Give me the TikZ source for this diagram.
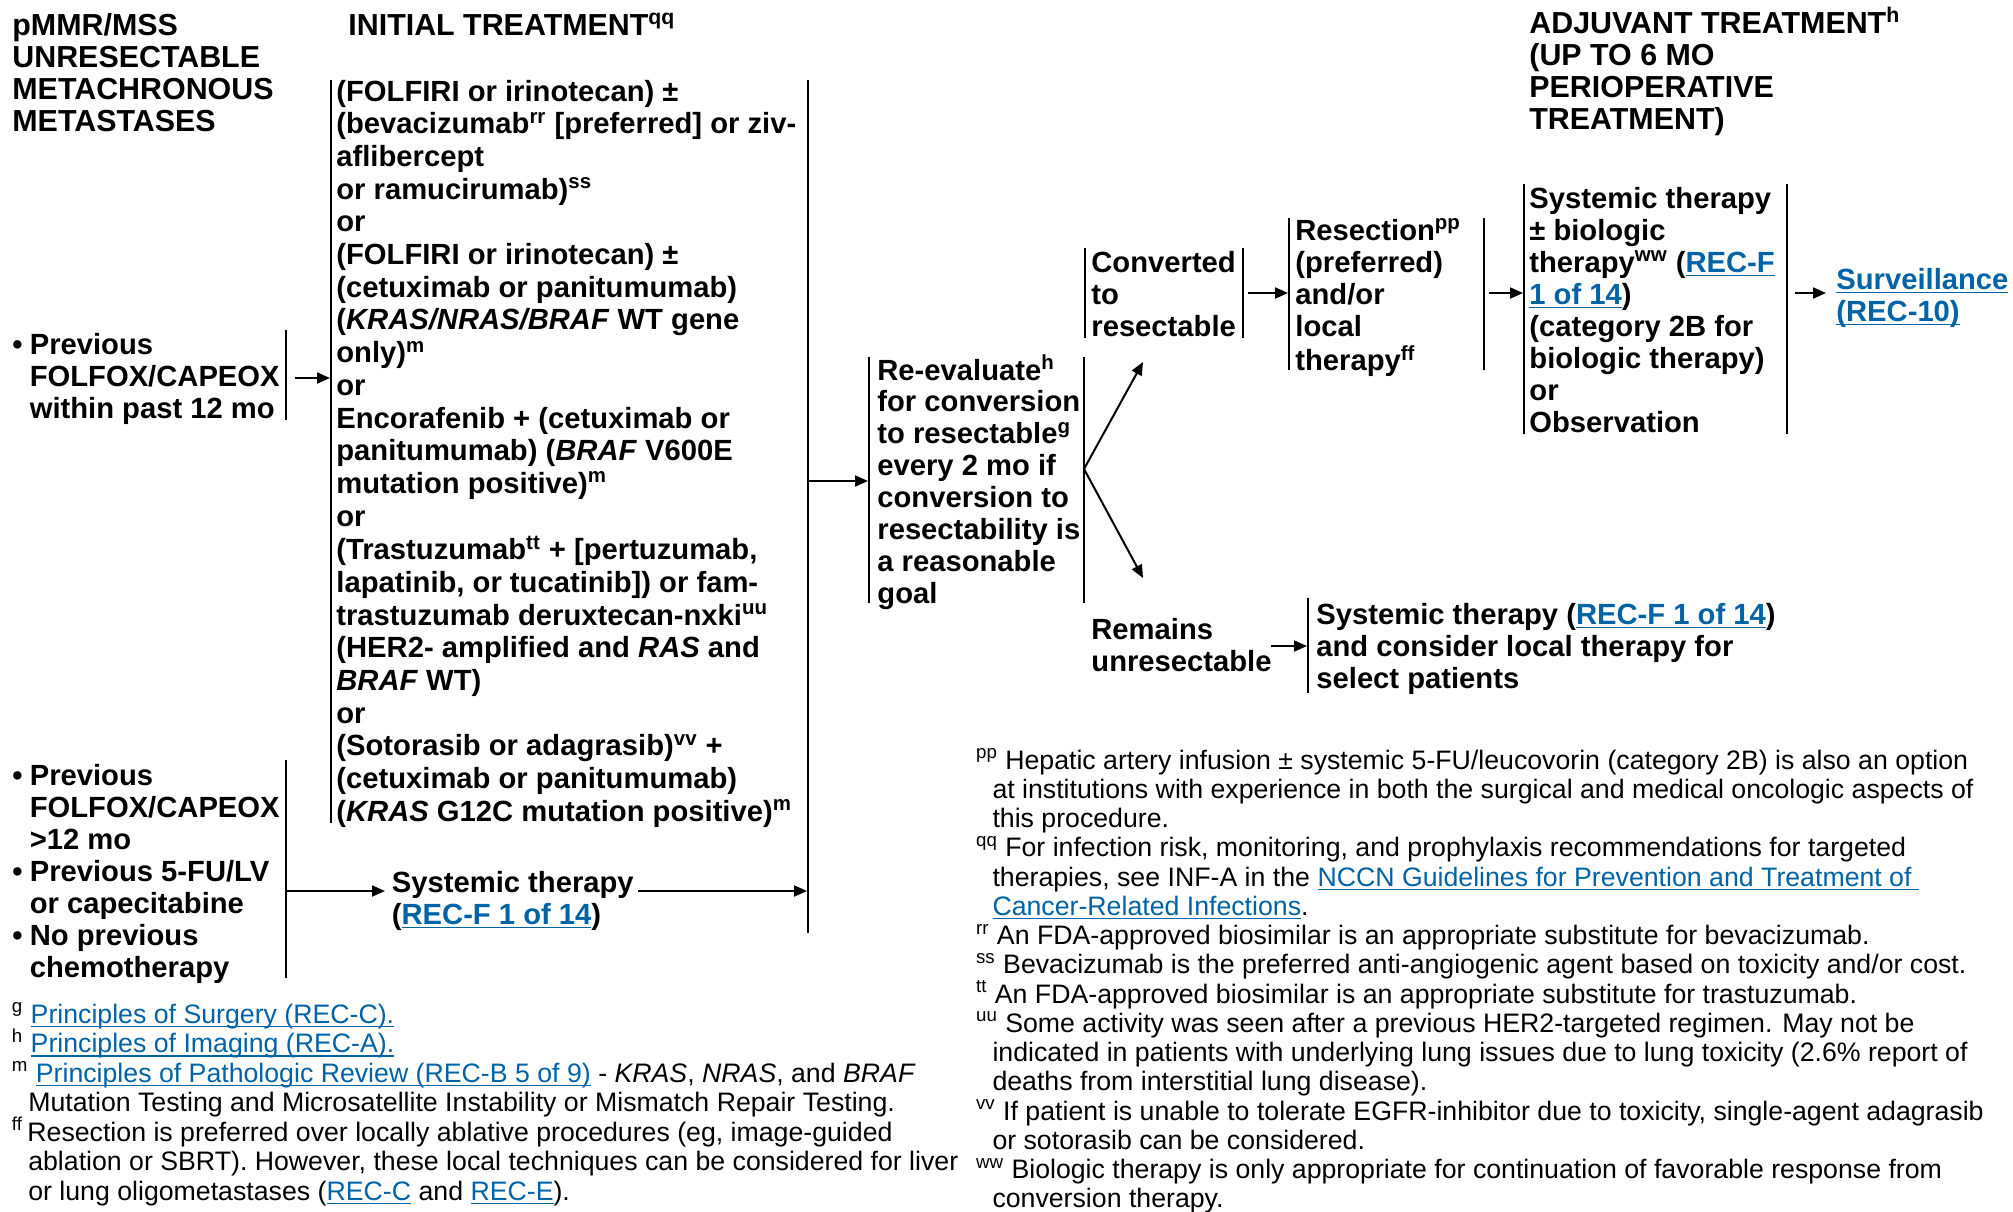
\documentclass[tikz,border=0pt]{standalone}
\usepackage{fontspec}
\setmainfont{Liberation Sans}
\usetikzlibrary{arrows.meta}
\definecolor{linkblue}{RGB}{0,99,166}
\newcommand{\lnk}[1]{{\color{linkblue}\setbox0\hbox{#1}\rlap{\rule[-2pt]{\wd0}{0.75pt}}\box0}}
\newcommand{\ind}{\hspace*{8.2pt}}
\newcommand{\fs}[1]{\smash{\textsuperscript{#1}}}
\newcommand{\tl}[1]{\begin{tabular}[t]{@{}l@{}}#1\end{tabular}}
\begin{document}
\begin{tikzpicture}[x=0.5pt,y=-0.5pt,
  hdr/.style={anchor=base west,inner sep=0,font=\bfseries\fontsize{15.2}{16.1}\selectfont},
  btxt/.style={anchor=base west,inner sep=0,font=\bfseries\fontsize{14.6}{16}\selectfont},
  fntxt/.style={anchor=base west,inner sep=0,font=\fontsize{13.35}{14.76}\selectfont},
  bar/.style={line width=1pt},
  arr/.style={line width=1pt,-{Triangle[length=6.5pt,width=5.5pt]}}]
\useasboundingbox (0,0) rectangle (2013,1211);
\fill[white] (0,0) rectangle (2013,1211);

% headers
\node[hdr] (h1) at (12,35) {\tl{pMMR/MSS\\UNRESECTABLE\\METACHRONOUS\\METASTASES}};
\node[hdr] (h2) at (348,35) {INITIAL TREATMENT\textsuperscript{qq}};
\node[hdr] (h3) at (1529,33) {\tl{ADJUVANT TREATMENT\textsuperscript{h}\\(UP TO 6 MO\\PERIOPERATIVE\\TREATMENT)}};

% left items
\node[btxt] (p1) at (12,354) {\tl{\makebox[8.7pt][l]{•}Previous\\\hspace*{8.7pt}FOLFOX/CAPEOX\\\hspace*{8.7pt}within past 12 mo}};
\node[btxt] (p2) at (12,785) {\tl{\makebox[8.7pt][l]{•}Previous\\\hspace*{8.7pt}FOLFOX/CAPEOX\\\hspace*{8.7pt}>12 mo\\\makebox[8.7pt][l]{•}Previous 5-FU/LV\\\hspace*{8.7pt}or capecitabine\\\makebox[8.7pt][l]{•}No previous\\\hspace*{8.7pt}chemotherapy}};
\draw[bar] (286,330) -- (286,420);
\draw[bar] (286,760) -- (286,978);

% initial treatment
\node[btxt,font=\bfseries\fontsize{14.6}{16.35}\selectfont] (init) at (336,101) {\tl{(FOLFIRI or irinotecan) ±\\
(bevacizumab\textsuperscript{rr} [preferred] or ziv-\\
aflibercept\\
or ramucirumab)\textsuperscript{ss}\\
or\\
(FOLFIRI or irinotecan) ±\\
(cetuximab or panitumumab)\\
(\textit{KRAS/NRAS/BRAF} WT gene\\
only)\textsuperscript{m}\\
or\\
Encorafenib + (cetuximab or\\
panitumumab) (\textit{BRAF} V600E\\
mutation positive)\textsuperscript{m}\\
or\\
(Trastuzumab\textsuperscript{tt} + [pertuzumab,\\
lapatinib, or tucatinib]) or fam-\\
trastuzumab deruxtecan-nxki\textsuperscript{uu}\\
(HER2- amplified and \textit{RAS} and\\
\textit{BRAF} WT)\\
or\\
(Sotorasib or adagrasib)\textsuperscript{vv} +\\
(cetuximab or panitumumab)\\
(\textit{KRAS} G12C mutation positive)\textsuperscript{m}}};
\draw[bar] (331,80) -- (331,823);
\draw[bar] (807.5,80) -- (807.5,933);

\node[btxt] (sys1) at (391.5,892) {\tl{Systemic therapy\\(\lnk{REC-F 1 of 14})}};

% re-evaluate
\node[btxt,font=\bfseries\fontsize{14.6}{15.95}\selectfont] (reev) at (877,380) {\tl{Re-evaluate\textsuperscript{h}\\for conversion\\to resectable\textsuperscript{g}\\every 2 mo if\\conversion to\\resectability is\\a reasonable\\goal}};
\draw[bar] (869,357) -- (869,603);
\draw[bar] (1084,357) -- (1084,603);

% converted
\node[btxt] (conv) at (1091,272) {\tl{Converted\\to\\resectable}};
\draw[bar] (1085,248) -- (1085,338);
\draw[bar] (1243,248) -- (1243,338);

% resection
\node[btxt] (resec) at (1295,240) {\tl{Resection\textsuperscript{pp}\\(preferred)\\and/or\\local\\therapy\textsuperscript{ff}}};
\draw[bar] (1289,218) -- (1289,370);
\draw[bar] (1484,218) -- (1484,370);

% adjuvant
\node[btxt] (adj) at (1529,208) {\tl{Systemic therapy\\± biologic\\therapy\textsuperscript{ww} (\lnk{REC-F}\\\lnk{1 of 14})\\(category 2B for\\biologic therapy)\\or\\Observation}};
\draw[bar] (1524,184) -- (1524,434);
\draw[bar] (1787,184) -- (1787,434);

\node[btxt] (surv) at (1836,289) {\tl{\lnk{Surveillance}\\\lnk{(REC-10)}}};

% remains
\node[btxt] (rem) at (1091,639) {\tl{Remains\\unresectable}};
\node[btxt] (sys2) at (1316,624) {\tl{Systemic therapy (\lnk{REC-F 1 of 14})\\and consider local therapy for\\select patients}};
\draw[bar] (1308,598) -- (1308,693);

% connector coordinates
\coordinate (a1s) at (295,378);  \coordinate (a1e) at (330,378);
\coordinate (a2s) at (286,891);  \coordinate (a2e) at (385,891);
\coordinate (a3s) at (638,891);  \coordinate (a3e) at (807,891);
\coordinate (a4s) at (807.5,481); \coordinate (a4e) at (868,481);
\coordinate (sp) at (1084,469);
\coordinate (upe) at (1143,362); \coordinate (dne) at (1143,578);
\coordinate (a5s) at (1248,293); \coordinate (a5e) at (1288,293);
\coordinate (a6s) at (1489,293); \coordinate (a6e) at (1523,293);
\coordinate (a7s) at (1795,293); \coordinate (a7e) at (1826,293);
\coordinate (a8s) at (1271,646); \coordinate (a8e) at (1307,646);

\draw[arr] (a1s) -- (a1e);
\draw[arr] (a2s) -- (a2e);
\draw[arr] (a3s) -- (a3e);
\draw[arr] (a4s) -- (a4e);
\draw[arr] (sp) -- (upe);
\draw[arr] (sp) -- (dne);
\draw[arr] (a5s) -- (a5e);
\draw[arr] (a6s) -- (a6e);
\draw[arr] (a7s) -- (a7e);
\draw[arr] (a8s) -- (a8e);

% footnotes left
\node[fntxt] (fnl) at (11.5,1023) {\tl{\fs{g} \lnk{Principles of Surgery (REC-C).}\\
\fs{h} \lnk{Principles of Imaging (REC-A).}\\
\fs{m} \lnk{Principles of Pathologic Review (REC-B 5 of 9)} - \textit{KRAS}, \textit{NRAS}, and \textit{BRAF}\\
\ind Mutation Testing and Microsatellite Instability or Mismatch Repair Testing.\\
\fs{ff}\,Resection is preferred over locally ablative procedures (eg, image-guided\\
\ind ablation or SBRT). However, these local techniques can be considered for liver\\
\ind or lung oligometastases (\lnk{REC-C} and \lnk{REC-E}).}};

% footnotes right
\node[fntxt,font=\fontsize{13.35}{14.63}\selectfont] (fnr) at (975.7,769) {\tl{\fs{pp} Hepatic artery infusion ± systemic 5-FU/leucovorin (category 2B) is also an option\\
\ind at institutions with experience in both the surgical and medical oncologic aspects of\\
\ind this procedure.\\
\fs{qq} For infection risk, monitoring, and prophylaxis recommendations for targeted\\
\ind therapies, see INF-A in the \lnk{NCCN Guidelines for Prevention and Treatment of }\\
\ind \lnk{Cancer-Related Infections}.\\
\fs{rr} An FDA-approved biosimilar is an appropriate substitute for bevacizumab.\\
\fs{ss} Bevacizumab is the preferred anti-angiogenic agent based on toxicity and/or cost.\\
\fs{tt} An FDA-approved biosimilar is an appropriate substitute for trastuzumab.\\
\fs{uu} Some activity was seen after a previous HER2-targeted regimen. May not be\\
\ind indicated in patients with underlying lung issues due to lung toxicity (2.6\% report of\\
\ind deaths from interstitial lung disease).\\
\fs{vv} If patient is unable to tolerate EGFR-inhibitor due to toxicity, single-agent adagrasib\\
\ind or sotorasib can be considered.\\
\fs{ww} Biologic therapy is only appropriate for continuation of favorable response from\\
\ind conversion therapy.}};
\end{tikzpicture}
\end{document}
